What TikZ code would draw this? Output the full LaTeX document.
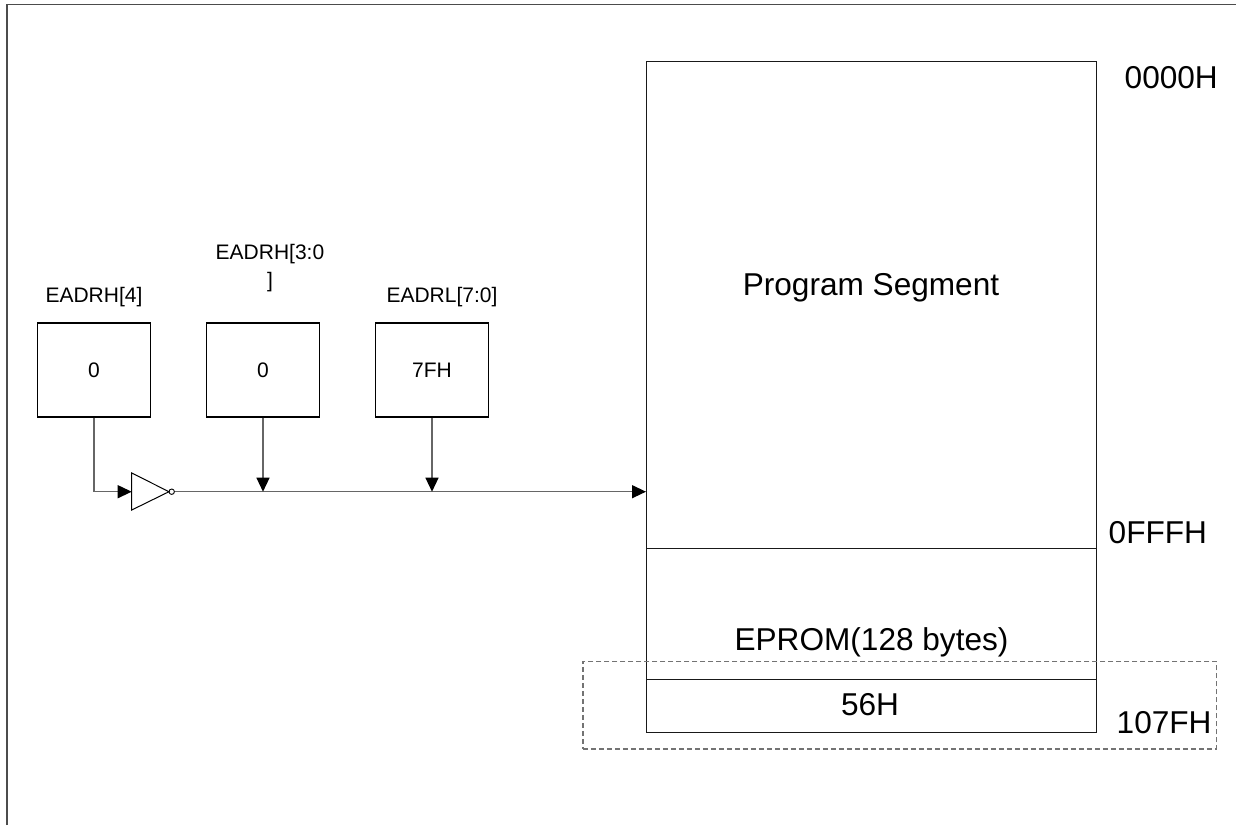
\documentclass[tikz,border=0pt]{standalone}
\usepackage{fontspec}
\setmainfont{Liberation Sans}
\usetikzlibrary{arrows.meta}
\tikzset{
  reg/.style={draw=black, line width=1.1pt, minimum width=113pt, minimum height=94pt, inner sep=0pt, font=\fontsize{21}{28}\selectfont},
  small/.style={inner sep=0pt, font=\fontsize{21}{28}\selectfont, align=center},
  big/.style={inner sep=0pt, font=\fontsize{31.6}{37}\selectfont},
  wire/.style={draw=black!60, line width=1.3pt},
  arr/.style={wire, -{Triangle[length=14pt,width=13pt,color=black]}},
  memline/.style={draw=black!90, line width=1.2pt},
  frame/.style={draw=black!70, line width=1.6pt},
}
\begin{document}
\begin{tikzpicture}[x=1pt,y=-1pt]
\useasboundingbox (0,0) rectangle (1236,825);
% outer frame
\draw[frame] (7,825) -- (7,4.5) -- (1236,4.5);
% registers
\node[reg] (r1) at (94,370) {0};
\node[reg] (r2) at (263,370) {0};
\node[reg] (r3) at (432,370) {7FH};
\node[small, anchor=base] (l1) at (94,302) {EADRH[4]};
\node[small, anchor=base] (l2) at (270,287) {EADRH[3:0\\]};
\node[small, anchor=base] (l3) at (442,302) {EADRL[7:0]};
% memory map
\node[memline, draw, minimum width=450pt, minimum height=487pt, inner sep=0pt, anchor=north west] (prog) at (646,60.7) {};
\node[memline, draw, minimum width=450pt, minimum height=131.3pt, inner sep=0pt, anchor=north west] (eprom) at (646,547.7) {};
\node[memline, draw, minimum width=450pt, minimum height=53pt, inner sep=0pt, anchor=north west] (cell) at (646,679) {};
\node[draw=black!55, dash pattern=on 5pt off 3pt, line width=1.5pt, minimum width=633.7pt, minimum height=87.3pt, inner sep=0pt, anchor=north west] (sel) at (582,660.7) {};
\node[big, anchor=base] (tprog) at (871,295) {Program Segment};
\node[big, anchor=base] (teprom) at (871.5,650) {EPROM(128 bytes)};
\node[big, anchor=base] (tcell) at (870,715) {56H};
\node[big, anchor=base west] (a0) at (1124.5,88) {0000H};
\node[big, anchor=base west] (a1) at (1108.5,543) {0FFFH};
\node[big, anchor=base west] (a2) at (1116.5,733) {107FH};
% inverter
\coordinate (invin) at (131.7,491.7);
\draw[line width=1pt] (131.7,473) -- (131.7,510) -- (169,491.7) -- cycle;
\node[circle, draw, line width=0.9pt, minimum size=5.4pt, inner sep=0pt] (bub) at (171.7,491.7) {};
% connectors
\draw[arr] (r1.south) |- (invin);
\draw[arr] (bub.east) -- (bub.east -| prog.west);
\draw[arr] (r2.south) -- (r2.south |- bub.center);
\draw[arr] (r3.south) -- (r3.south |- bub.center);
\end{tikzpicture}
\end{document}
